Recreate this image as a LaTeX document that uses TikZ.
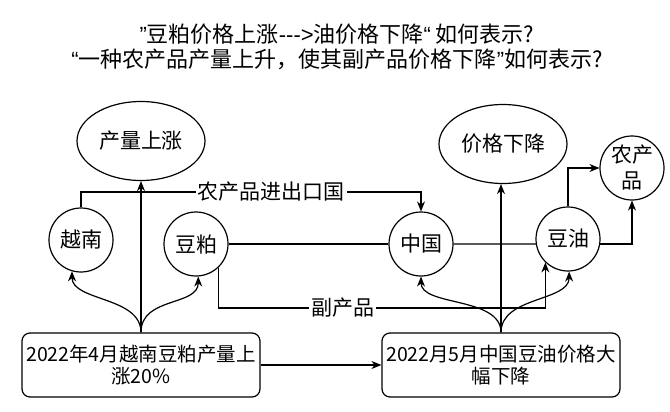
\documentclass[tikz,border=0pt]{standalone}
\usepackage{fontspec}
\setmainfont{Noto Sans CJK SC}
\newfontfamily\latinf{Liberation Sans}
\usetikzlibrary{arrows.meta,shapes.geometric}

\begin{document}
\begin{tikzpicture}[x=1pt,y=-1pt,
  line width=1.2pt,
  every node/.style={font=\fontsize{21}{25}\selectfont},
  circ/.style={circle, draw, minimum size=64pt, inner sep=0pt, align=center},
  ell/.style={ellipse, draw, minimum width=128pt, minimum height=79pt, inner sep=0pt},
  evtbox/.style={draw, rounded corners=8pt, minimum width=238pt, minimum height=64pt,
    align=center, font=\fontsize{19.5}{22}\selectfont},
  arr/.style={-{Stealth[length=10pt,width=8pt]}},
  lbl/.style={fill=white, inner sep=2pt}]
\useasboundingbox (0,0) rectangle (670,412);

% title
\node[align=center, font=\fontsize{22}{25}\selectfont] (title) at (337,47)
  {{\latinf ”}豆粕价格上涨{\latinf -{}-{}->}油价格下降{\latinf “} 如何表示?\\{\latinf “}一种农产品产量上升，使其副产品价格下降{\latinf ”}如何表示?};

% circles and ellipses
\node[ell] (cl) at (141,141) {产量上涨};
\node[ell] (jg) at (503,144) {价格下降};
\node[circ] (yn) at (81,240) {越南};
\node[circ] (dp) at (196,244) {豆粕};
\node[circ] (zg) at (421,244) {中国};
\node[circ] (dy) at (568,239) {豆油};
\node[circ, font=\fontsize{21}{26}\selectfont] (ncp) at (632,168) {农产\\品};

% events
\node[evtbox] (b1) at (141,365) {2022年4月越南豆粕产量上\\涨20\%};
\node[evtbox] (b2) at (501,365) {2022月5月中国豆油价格大\\幅下降};

% connectors
\coordinate (trade) at (0,192);
\coordinate (byprod) at (0,308);
\draw[arr] (yn.north) -- (yn.north |- trade) -| node[lbl, pos=0.28] {农产品进出口国} (zg.north);
\draw[arr] (b1.north) -- (cl.south);
\draw[arr] (b1.north) .. controls +(0,-36) and +(0,30) .. (yn.-106);
\draw[arr] (b1.north) .. controls +(0,-36) and +(0,30) .. (dp.-86);
\draw[arr] (dp.-47) -- (dp.-47 |- byprod) -| node[lbl, pos=0.19] {副产品} (dy.-134);
\draw (dp.east) -- (zg.west);
\draw (zg.east) -- (dy.189);
\draw[arr] (b2.north) -- (b2.north |- jg.south);
\draw[arr] (b2.north) .. controls +(0,-36) and +(0,30) .. (zg.south);
\draw[arr] (b2.north) .. controls +(0,-36) and +(0,30) .. (dy.-88);
\draw[arr] (dy.north) |- (ncp.west);
\draw[arr] (dy.-9) -| (ncp.south);
\draw[arr] (b1.east) -- (b2.west);
\end{tikzpicture}
\end{document}
